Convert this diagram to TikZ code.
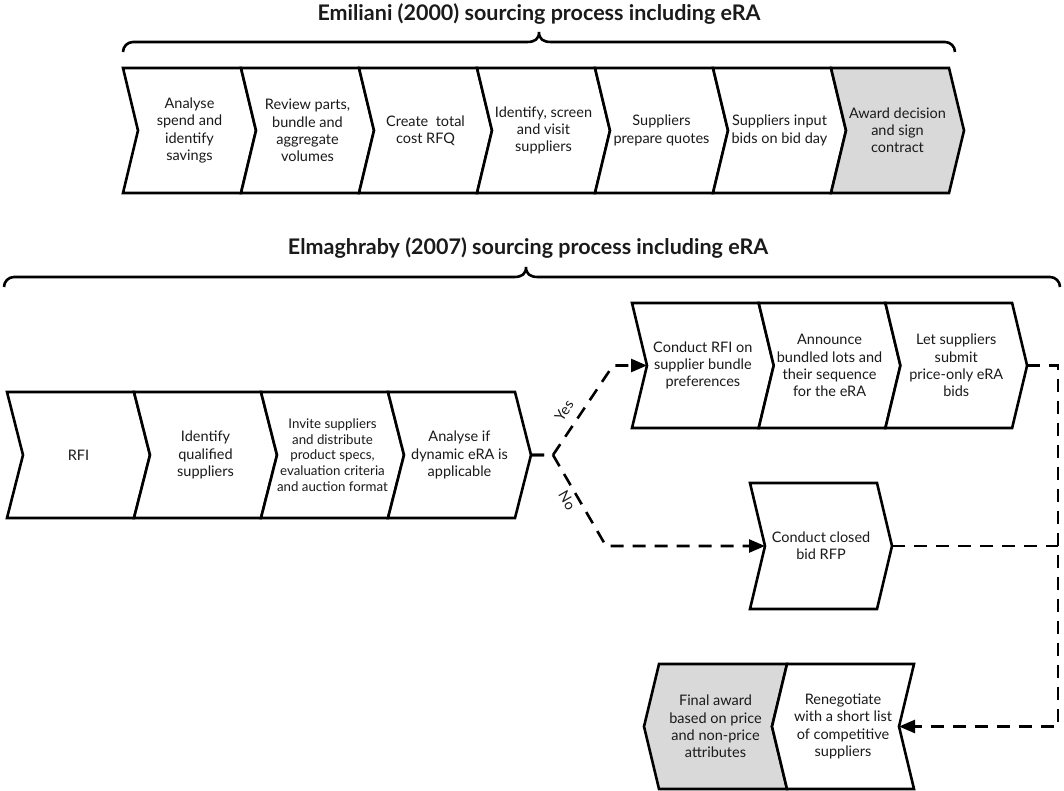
\documentclass[tikz,border=0pt]{standalone}
\usepackage{fontspec}
\setmainfont{Lato}
\usetikzlibrary{arrows.meta}
\definecolor{awardgray}{HTML}{D9D9D9}
\definecolor{ink}{HTML}{1A1A1A}

\tikzset{
  shape line/.style={draw=black, line width=2.6pt, line join=miter},
  stepname/.style={align=center, inner sep=0pt, text=ink, font=\fontsize{14.5}{17.2}\selectfont},
  smallname/.style={align=center, inner sep=0pt, text=ink, font=\fontsize{13.3}{15.7}\selectfont},
  heading/.style={anchor=base, inner sep=0pt, text=ink, font=\fontsize{21.5}{26}\selectfont\bfseries},
  bracket/.style={draw=black, line width=2.6pt},
  dashflow/.style={draw=black, line width=2.6pt, dash pattern=on 13pt off 9pt},
  flow/.style={dashflow, -{Triangle[length=16pt,width=13pt]}},
  branch/.style={font=\fontsize{14.5}{17}\selectfont, text=ink, sloped},
}

% chevron pointing right: name, left x, top y, width, height, point depth, fill, text style, text
\newcommand\chevright[9]{%
  \filldraw[shape line, fill=#7] (#2,#3) -- ++(#4,0) -- ++(#6,#5/2) -- ++(-#6,#5/2)
    -- ++(-#4,0) -- ++(#6,-#5/2) -- cycle;
  \node[#8] (#1) at ({#2+#4/2+#6/2},{#3+#5/2}) {#9};
  \coordinate (#1-in) at ({#2+#6},{#3+#5/2});
  \coordinate (#1-out) at ({#2+#4+#6},{#3+#5/2});
}
% chevron pointing left
\newcommand\chevleft[9]{%
  \filldraw[shape line, fill=#7] (#2,#3) -- ++(#4,0) -- ++(-#6,#5/2) -- ++(#6,#5/2)
    -- ++(-#4,0) -- ++(-#6,-#5/2) -- cycle;
  \node[#8] (#1) at ({#2+#4/2-#6/2},{#3+#5/2}) {#9};
  \coordinate (#1-in) at ({#2+#4-#6},{#3+#5/2});
  \coordinate (#1-out) at ({#2-#6},{#3+#5/2});
}

\begin{document}
\begin{tikzpicture}[x=1pt,y=-1pt]
\useasboundingbox (0,0) rectangle (1064,791);

% ---------- Emiliani (2000) ----------
\node[heading] (emtitle) at (539,21) {Emiliani (2000) sourcing process including eRA};
\draw[bracket] (123,52) .. controls (123,46.5) and (127.5,42) .. (133,42) -- (527,42)
  .. controls (535,42) and (539,39) .. (539,32) .. controls (539,39) and (543,42) .. (551,42)
  -- (945,42) .. controls (950.5,42) and (955,46.5) .. (955,52);

\chevright{e1}{123}{68}{118}{125}{15}{white}{stepname}{Analyse\\spend and\\identify\\savings}
\chevright{e2}{241}{68}{118}{125}{15}{white}{stepname}{Review parts,\\bundle and\\aggregate\\volumes}
\chevright{e3}{359}{68}{118}{125}{15}{white}{stepname}{Create~ total\\cost RFQ}
\chevright{e4}{477}{68}{118}{125}{15}{white}{stepname}{Identify, screen\\and visit\\suppliers}
\chevright{e5}{595}{68}{118}{125}{15}{white}{stepname}{Suppliers\\prepare quotes}
\chevright{e6}{713}{68}{118}{125}{15}{white}{stepname}{Suppliers input\\bids on bid day}
\chevright{e7}{831}{68}{118}{125}{15}{awardgray}{stepname}{Award decision\\and sign\\contract}

% ---------- Elmaghraby (2007) ----------
\node[heading] (eltitle) at (528,255) {Elmaghraby (2007) sourcing process including eRA};
\draw[bracket] (4,287) .. controls (4,281.5) and (8.5,277) .. (14,277) -- (514,277)
  .. controls (522,277) and (526,274) .. (526,267) .. controls (526,274) and (530,277) .. (538,277)
  -- (1050,277) .. controls (1055.5,277) and (1060,281.5) .. (1060,287);

\chevright{rfi}{7}{392}{127}{126}{16}{white}{stepname}{RFI}
\chevright{qual}{134}{392}{127}{126}{16}{white}{stepname}{Identify\\qualified\\suppliers}
\chevright{invite}{261}{392}{127}{126}{16}{white}{smallname}{Invite suppliers\\and distribute\\product specs,\\evaluation criteria\\and auction format}
\chevright{analyse}{388}{392}{127}{126}{16}{white}{stepname}{Analyse if\\dynamic eRA is\\applicable}

\chevright{bundle}{632}{303}{126.7}{125}{15}{white}{stepname}{Conduct RFI on\\supplier bundle\\preferences}
\chevright{announce}{758.7}{303}{126.7}{125}{15}{white}{stepname}{Announce\\bundled lots and\\their sequence\\for the eRA}
\chevright{bids}{885.4}{303}{126.7}{125}{15}{white}{stepname}{Let suppliers\\submit\\price-only eRA\\bids}

\chevright{closed}{750}{483}{127}{126}{15}{white}{stepname}{Conduct closed\\bid RFP}

\chevleft{final}{659}{664}{128}{125}{15}{awardgray}{stepname}{Final award\\based on price\\and non-price\\attributes}
\chevleft{reneg}{787}{664}{127}{125}{15}{white}{stepname}{Renegotiate\\with a short list\\of competitive\\suppliers}

% decision branches
\coordinate (fork) at (553,455);
\coordinate (yesbend) at (613,365.5);
\coordinate (nobend) at (606,546);
\draw[flow] (analyse-out) -- (fork) -- node[branch, above, pos=0.4, inner sep=9pt] {Yes} (yesbend) -- (bundle-in);
\draw[flow] (analyse-out) -- (fork) -- node[branch, below, pos=0.44, inner sep=4pt] {No} (nobend) -- (closed-in);

% return line on the right
\coordinate (rtop) at (1058,365.5);
\coordinate (rbot) at (1058,726.5);
\draw[flow] (bids-out) -- (rtop) -- (rbot) -- (reneg-in);
\draw[dashflow] (closed-out) -- (closed-out -| rtop);
\end{tikzpicture}
\end{document}
